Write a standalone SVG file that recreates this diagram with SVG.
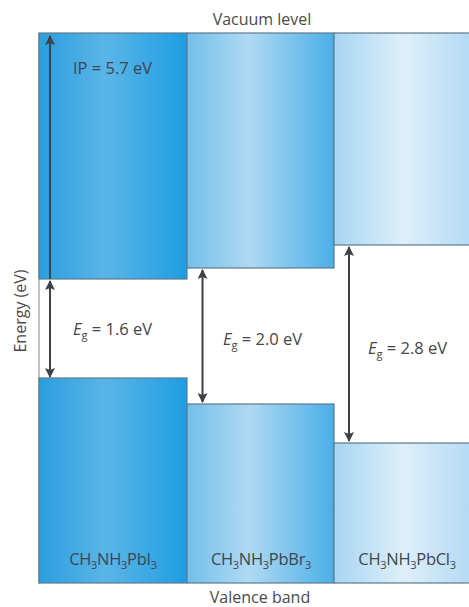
<svg xmlns="http://www.w3.org/2000/svg" width="469" height="607" viewBox="0 0 469 607">
<defs>
<linearGradient id="g1" x1="0" y1="0" x2="1" y2="0">
<stop offset="0" stop-color="#2b9ede"/><stop offset="0.45" stop-color="#5ab5e7"/><stop offset="1" stop-color="#1f9de2"/>
</linearGradient>
<linearGradient id="g2" x1="0" y1="0" x2="1" y2="0">
<stop offset="0" stop-color="#72bfeb"/><stop offset="0.42" stop-color="#b0d9f3"/><stop offset="1" stop-color="#4aafe7"/>
</linearGradient>
<linearGradient id="g3" x1="0" y1="0" x2="1" y2="0">
<stop offset="0" stop-color="#a8d5f2"/><stop offset="0.5" stop-color="#deeffa"/><stop offset="1" stop-color="#b2d9f3"/>
</linearGradient>
<marker id="ah" viewBox="0 0 10 10" refX="9" refY="5" markerWidth="5" markerHeight="5" orient="auto-start-reverse" markerUnits="strokeWidth">
<path d="M0,0 L10,5 L0,10 L2,5 z" fill="#3c4248"/>
</marker>
<style>
.blk{stroke:#5d7a8c;stroke-width:1.2}
.t{font-family:"Open Sans",Lato,sans-serif;fill:#42454a;font-size:16.5px}
.lab{font-family:"Open Sans",Lato,sans-serif;fill:#4a4a4a;font-size:16px}
.arr{stroke:#3c4248;stroke-width:2;fill:none;marker-start:url(#ah);marker-end:url(#ah)}
.arr1{stroke:#3c4248;stroke-width:2;fill:none;marker-end:url(#ah)}
</style>
</defs>
<rect width="469" height="607" fill="#fff"/>
<line x1="39" y1="33" x2="39" y2="584" stroke="#9a9a9a" stroke-width="1.2"/>
<g id="col1">
<rect class="blk" x="39" y="33" width="148" height="246" fill="url(#g1)"/>
<rect class="blk" x="39" y="378" width="148" height="205" fill="url(#g1)"/>
<text class="t" x="113" y="565" text-anchor="middle" letter-spacing="-0.3">CH<tspan font-size="11" dy="4">3</tspan><tspan dy="-4">NH</tspan><tspan font-size="11" dy="4">3</tspan><tspan dy="-4">PbI</tspan><tspan font-size="11" dy="4">3</tspan></text>
</g>
<g id="col2">
<rect class="blk" x="187" y="33" width="147" height="235" fill="url(#g2)"/>
<rect class="blk" x="187" y="404" width="147" height="179" fill="url(#g2)"/>
<text class="t" x="261" y="565" text-anchor="middle" letter-spacing="-0.3">CH<tspan font-size="11" dy="4">3</tspan><tspan dy="-4">NH</tspan><tspan font-size="11" dy="4">3</tspan><tspan dy="-4">PbBr</tspan><tspan font-size="11" dy="4">3</tspan></text>
</g>
<g id="col3">
<rect class="blk" x="334" y="33" width="140" height="212" fill="url(#g3)"/>
<rect class="blk" x="334" y="443" width="140" height="140" fill="url(#g3)"/>
<text class="t" x="407" y="565" text-anchor="middle" letter-spacing="-0.3">CH<tspan font-size="11" dy="4">3</tspan><tspan dy="-4">NH</tspan><tspan font-size="11" dy="4">3</tspan><tspan dy="-4">PbCl</tspan><tspan font-size="11" dy="4">3</tspan></text>
</g>
<g id="connectors">
<line class="arr1" x1="50" y1="279" x2="50" y2="36"/>
<line class="arr" x1="50" y1="281" x2="50" y2="377"/>
<line class="arr" x1="202.5" y1="270" x2="202.5" y2="402"/>
<line class="arr" x1="349" y1="247" x2="349" y2="441"/>
</g>
<g id="labels">
<text class="lab" x="262" y="25" text-anchor="middle">Vacuum level</text>
<text class="lab" x="260" y="603" text-anchor="middle">Valence band</text>
<text class="lab" transform="translate(26,311) rotate(-90)" text-anchor="middle">Energy (eV)</text>
<text class="t" x="73" y="74" textLength="79" lengthAdjust="spacing">IP = 5.7 eV</text>
<text class="t" x="73" y="335"><tspan font-style="italic">E</tspan><tspan font-size="11" dy="4">g</tspan><tspan dy="-4"> = 1.6 eV</tspan></text>
<text class="t" x="223" y="345"><tspan font-style="italic">E</tspan><tspan font-size="11" dy="4">g</tspan><tspan dy="-4"> = 2.0 eV</tspan></text>
<text class="t" x="368" y="354"><tspan font-style="italic">E</tspan><tspan font-size="11" dy="4">g</tspan><tspan dy="-4"> = 2.8 eV</tspan></text>
</g>
</svg>
